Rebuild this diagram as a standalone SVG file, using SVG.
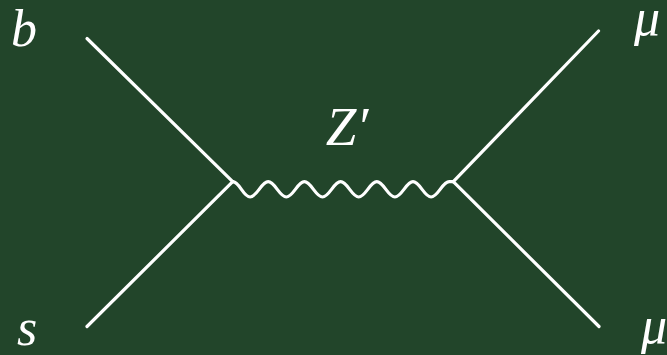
<svg xmlns="http://www.w3.org/2000/svg" width="667" height="355" viewBox="0 0 667 355">
<style>
.ln{stroke:#ffffff;stroke-width:3.2;fill:none;stroke-linecap:round;stroke-linejoin:round}
.lbl{font-family:"Liberation Serif","DejaVu Serif",serif;font-style:italic;font-size:52px;fill:#ffffff;text-anchor:middle}
</style>
<rect width="667" height="355" fill="#22452a"/>
<g id="connectors">
<line class="ln" x1="87" y1="38.5" x2="232.7" y2="181.7"/>
<line class="ln" x1="87" y1="326.5" x2="232.7" y2="181.7"/>
<line class="ln" x1="598.5" y1="31" x2="453.3" y2="181.7"/>
<line class="ln" x1="599" y1="326.5" x2="453.3" y2="181.7"/>
<path id="Zprime-propagator" class="ln" d="M232.7,181.7 C239.4,181.7 243.4,197 250.1,197 S261.5,181.7 268.2,181.7 S279.6,197 286.3,197 S297.7,181.7 304.4,181.7 S315.8,197 322.5,197 S333.9,181.7 340.6,181.7 S352,197 358.7,197 S370.1,181.7 376.8,181.7 S388.2,197 394.9,197 S406.3,181.7 413,181.7 S424.4,197 431.1,197 S442.5,181.7 449.2,181.7 L453.3,181.7"/>
</g>
<g id="b"><text class="lbl" x="24" y="46">b</text></g>
<g id="s"><text class="lbl" x="27" y="345">s</text></g>
<g id="mu-top"><text class="lbl" x="647" y="35">μ</text></g>
<g id="mu-bottom"><text class="lbl" x="654" y="343">μ</text></g>
<g id="Zprime"><text class="lbl" x="347" y="145" style="font-size:55px">Z′</text></g>
</svg>
